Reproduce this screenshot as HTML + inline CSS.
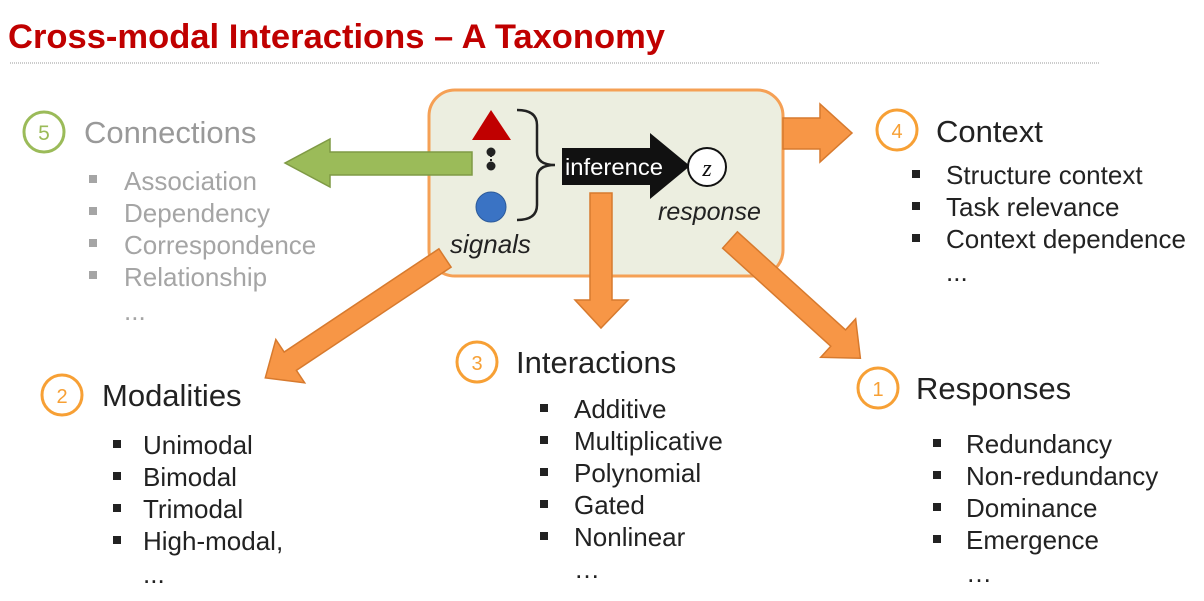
<!DOCTYPE html>
<html><head><meta charset="utf-8"><style>
html,body{margin:0;padding:0;background:#fff;}
svg{display:block;font-family:"Liberation Sans",sans-serif;}
</style></head><body>
<svg width="1204" height="601" viewBox="0 0 1204 601" xmlns="http://www.w3.org/2000/svg">
<text x="8" y="48" font-size="34" font-weight="bold" fill="#c00000" textLength="657" lengthAdjust="spacingAndGlyphs">Cross-modal Interactions – A Taxonomy</text>
<line x1="10" y1="63" x2="1100" y2="63" stroke="#999" stroke-width="1" stroke-dasharray="1,1"/>

<rect x="429" y="90" width="354" height="186" rx="26" fill="#eceee0" stroke="#f5a055" stroke-width="3"/>

<polygon points="472,152 330,152 330,139 285,163 330,187 330,175 472,175" fill="#9bbb59" stroke="#7f9a45" stroke-width="1.5"/>

<polygon points="783,118 820,118 820,104 852,133 820,162 820,149 783,149" fill="#f79646" stroke="#d77a2e" stroke-width="1.5"/>
<polygon points="590,193 612,193 612,300 628,300 601,328 575,300 590,300" fill="#f79646" stroke="#d77a2e" stroke-width="1.5"/>
<g transform="translate(445,258) rotate(146.3)">
<polygon points="0,-11 186,-11 186,-26 216,0 186,26 186,11 0,11" fill="#f79646" stroke="#d77a2e" stroke-width="1.5"/>
</g>
<g transform="translate(730,240) rotate(42.2)">
<polygon points="0,-11 146,-11 146,-26 176,0 146,26 146,11 0,11" fill="#f79646" stroke="#d77a2e" stroke-width="1.5"/>
</g>

<polygon points="472,140 511,140 491,110" fill="#c00000"/>
<circle cx="491" cy="152" r="4.5" fill="#222"/>
<line x1="491" y1="155" x2="491" y2="164" stroke="#222" stroke-width="2" stroke-dasharray="2,2"/>
<circle cx="491" cy="166" r="4.5" fill="#222"/>
<circle cx="491" cy="207" r="15" fill="#3a73c4" stroke="#2c5a9a" stroke-width="1"/>
<path d="M517,110 Q537,110 537,125 L537,152 Q537,165 555,165 Q537,165 537,178 L537,205 Q537,220 517,220" fill="none" stroke="#222" stroke-width="2.5"/>
<text x="450" y="253" font-size="26" font-style="italic" fill="#222">signals</text>

<polygon points="562,148 650,148 650,133 690,166 650,199 650,185 562,185" fill="#111"/>
<text x="565" y="175" font-size="23" fill="#fff" textLength="98" lengthAdjust="spacingAndGlyphs">inference</text>
<circle cx="707" cy="167" r="19" fill="#fff" stroke="#111" stroke-width="2"/>
<text x="707" y="176" font-size="24" font-style="italic" font-family="Liberation Serif,serif" text-anchor="middle" fill="#111">z</text>
<text x="658" y="220" font-size="25" font-style="italic" fill="#222">response</text>

<circle cx="44" cy="132" r="20" fill="#fff" stroke="#9bbb59" stroke-width="3"/>
<text x="44" y="140" font-size="21" text-anchor="middle" fill="#9bbb59">5</text>
<text x="84" y="143" font-size="31" fill="#999">Connections</text>
<g font-size="26" fill="#a5a5a5">
<rect x="89" y="175" width="8" height="8"/><text x="124" y="190">Association</text>
<rect x="89" y="207" width="8" height="8"/><text x="124" y="222">Dependency</text>
<rect x="89" y="239" width="8" height="8"/><text x="124" y="254">Correspondence</text>
<rect x="89" y="271" width="8" height="8"/><text x="124" y="286">Relationship</text>
<text x="124" y="320">...</text>
</g>

<circle cx="897" cy="130" r="20" fill="#fff" stroke="#f7a035" stroke-width="3"/>
<text x="897" y="138" font-size="20" text-anchor="middle" fill="#f7a035">4</text>
<text x="936" y="142" font-size="31" fill="#222">Context</text>
<g font-size="26" fill="#222">
<rect x="912" y="170" width="8" height="8"/><text x="946" y="184">Structure context</text>
<rect x="912" y="202" width="8" height="8"/><text x="946" y="216">Task relevance</text>
<rect x="912" y="234" width="8" height="8"/><text x="946" y="248">Context dependence</text>
<text x="946" y="281">...</text>
</g>

<circle cx="477" cy="362" r="20" fill="#fff" stroke="#f7a035" stroke-width="3"/>
<text x="477" y="370" font-size="20" text-anchor="middle" fill="#f7a035">3</text>
<text x="516" y="373" font-size="31" fill="#222">Interactions</text>
<g font-size="26" fill="#222">
<rect x="540" y="404" width="8" height="8"/><text x="574" y="418">Additive</text>
<rect x="540" y="436" width="8" height="8"/><text x="574" y="450">Multiplicative</text>
<rect x="540" y="468" width="8" height="8"/><text x="574" y="482">Polynomial</text>
<rect x="540" y="500" width="8" height="8"/><text x="574" y="514">Gated</text>
<rect x="540" y="532" width="8" height="8"/><text x="574" y="546">Nonlinear</text>
<text x="574" y="578">…</text>
</g>

<circle cx="62" cy="395" r="20" fill="#fff" stroke="#f7a035" stroke-width="3"/>
<text x="62" y="403" font-size="20" text-anchor="middle" fill="#f7a035">2</text>
<text x="102" y="406" font-size="31" fill="#222">Modalities</text>
<g font-size="26" fill="#222">
<rect x="113" y="440" width="8" height="8"/><text x="143" y="454">Unimodal</text>
<rect x="113" y="472" width="8" height="8"/><text x="143" y="486">Bimodal</text>
<rect x="113" y="504" width="8" height="8"/><text x="143" y="518">Trimodal</text>
<rect x="113" y="536" width="8" height="8"/><text x="143" y="550">High-modal,</text>
<text x="143" y="583">...</text>
</g>

<circle cx="878" cy="388" r="20" fill="#fff" stroke="#f7a035" stroke-width="3"/>
<text x="878" y="396" font-size="20" text-anchor="middle" fill="#f7a035">1</text>
<text x="916" y="399" font-size="31" fill="#222">Responses</text>
<g font-size="26" fill="#222">
<rect x="933" y="439" width="8" height="8"/><text x="966" y="453">Redundancy</text>
<rect x="933" y="471" width="8" height="8"/><text x="966" y="485">Non-redundancy</text>
<rect x="933" y="503" width="8" height="8"/><text x="966" y="517">Dominance</text>
<rect x="933" y="535" width="8" height="8"/><text x="966" y="549">Emergence</text>
<text x="966" y="582">…</text>
</g>
</svg>
</body></html>
